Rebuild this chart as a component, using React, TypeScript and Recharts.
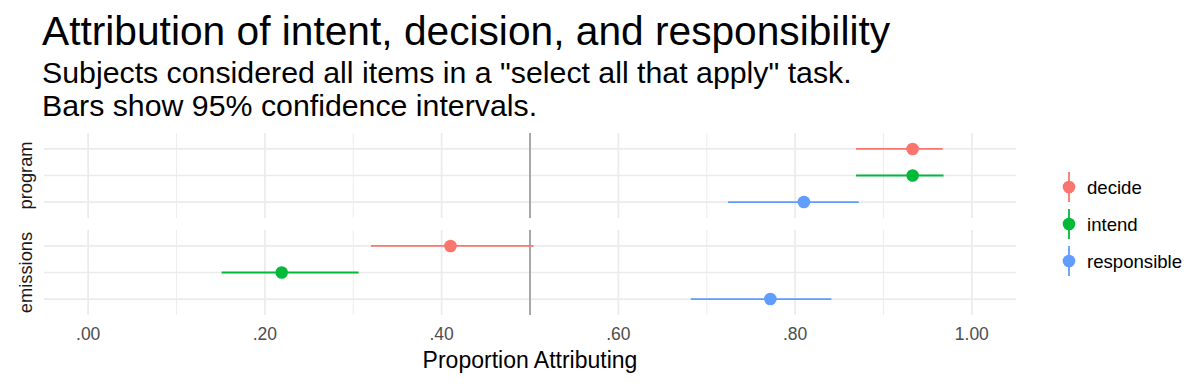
import React from 'react';
import { ErrorBar, ReferenceLine, Scatter, ScatterChart, XAxis, YAxis } from 'recharts';

const measures = ['decide', 'intend', 'responsible'];
const colors = ['#F8766D', '#00BA38', '#619CFF'];

const programMean = [0.933, 0.933, 0.81];
const programLow = [0.869, 0.869, 0.724];
const programHigh = [0.967, 0.968, 0.872];

const emissionsMean = [0.41, 0.219, 0.772];
const emissionsLow = [0.32, 0.151, 0.682];
const emissionsHigh = [0.504, 0.306, 0.841];

const majorTicks = [0, 0.2, 0.4, 0.6, 0.8, 1];
const minorTicks = [0.1, 0.3, 0.5, 0.7, 0.9];
const chanceLine = 0.5;

const title = 'Attribution of intent, decision, and responsibility';
const subtitle = [
  'Subjects considered all items in a "select all that apply" task.',
  'Bars show 95% confidence intervals.',
];
const xTitle = 'Proportion Attributing';

const FONT = '"Liberation Sans", Arial, Helvetica, sans-serif';
const GRID = '#ebebeb';

const fmt = (v: number) => v.toFixed(2).replace(/^0/, '');

// first measure sits on top, like ggplot's discrete y after coord flip
const rowOf = (i: number) => measures.length - 1 - i;

function buildRows(mean: number[], low: number[], high: number[]) {
  return measures.map((m, i) => ({
    measure: m,
    row: rowOf(i),
    value: mean[i],
    err: [mean[i] - low[i], high[i] - mean[i]],
  }));
}

function Facet({ mean, low, high, showAxis }: { mean: number[]; low: number[]; high: number[]; showAxis: boolean }) {
  const rows = buildRows(mean, low, high);
  return (
    <ScatterChart width={1200} height={showAxis ? 145 : 85} margin={{ top: 0, right: 184, bottom: 0, left: 44 }}>
      <XAxis
        type="number"
        dataKey="value"
        domain={[-0.05, 1.05]}
        ticks={majorTicks}
        hide={!showAxis}
        height={60}
        tickLine={false}
        axisLine={false}
        tickMargin={7}
        tick={{ fill: '#4d4d4d', fontSize: 17.5 }}
        tickFormatter={fmt}
        label={{ value: xTitle, position: 'insideBottom', offset: 7, fill: '#000', fontSize: 23 }}
      />
      <YAxis type="number" dataKey="row" domain={[-0.6, measures.length - 0.4]} hide />
      {minorTicks.map((t) => (
        <ReferenceLine key={'mn' + t} x={t} stroke={GRID} strokeWidth={0.9} />
      ))}
      {majorTicks.map((t) => (
        <ReferenceLine key={'mj' + t} x={t} stroke={GRID} strokeWidth={1.7} />
      ))}
      {measures.map((m, i) => (
        <ReferenceLine key={'h' + m} y={rowOf(i)} stroke={GRID} strokeWidth={1.7} />
      ))}
      <ReferenceLine x={chanceLine} stroke="#a0a0a0" strokeWidth={1.8} />
      {measures.map((m, i) => (
        <Scatter
          key={m}
          name={m}
          data={[rows[i]]}
          fill={colors[i]}
          isAnimationActive={false}
          shape={(p: any) => <circle cx={p.cx} cy={p.cy} r={6.3} fill={colors[i]} />}
        >
          <ErrorBar dataKey="err" direction="x" width={0} stroke={colors[i]} strokeWidth={1.8} />
        </Scatter>
      ))}
    </ScatterChart>
  );
}

export default function App() {
  return (
    <div style={{ position: 'relative', width: 1200, height: 390, background: '#fff', fontFamily: FONT }}>
      <style>{'body{margin:0}'}</style>
      <div style={{ position: 'absolute', left: 0, top: 133 }}>
        <Facet mean={programMean} low={programLow} high={programHigh} showAxis={false} />
      </div>
      <div style={{ position: 'absolute', left: 0, top: 230 }}>
        <Facet mean={emissionsMean} low={emissionsLow} high={emissionsHigh} showAxis />
      </div>
      <svg width={1200} height={390} style={{ position: 'absolute', left: 0, top: 0, pointerEvents: 'none' }}>
        <text x={42} y={45} fontSize={40.7} fill="#000">{title}</text>
        {subtitle.map((s, i) => (
          <text key={i} x={42} y={83 + i * 33} fontSize={30.3} fill="#000">{s}</text>
        ))}
        <text x={32} y={175.5} fontSize={18.3} fill="#1a1a1a" textAnchor="middle" transform="rotate(-90 32 175.5)">program</text>
        <text x={32} y={272.5} fontSize={18.3} fill="#1a1a1a" textAnchor="middle" transform="rotate(-90 32 272.5)">emissions</text>
        {measures.map((m, i) => {
          const cy = 187 + i * 37;
          return (
            <g key={m}>
              <line x1={1069} x2={1069} y1={cy - 15} y2={cy + 15} stroke={colors[i]} strokeWidth={1.8} />
              <circle cx={1069} cy={cy} r={6.3} fill={colors[i]} />
              <text x={1087} y={cy + 7} fontSize={18.6} fill="#000">{m}</text>
            </g>
          );
        })}
      </svg>
    </div>
  );
}
